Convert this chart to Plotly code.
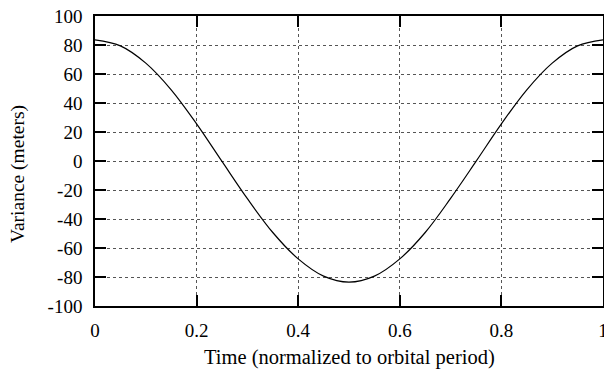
import plotly.graph_objects as go

# Values
time_vals = [0.0, 0.05, 0.10, 0.15, 0.20, 0.25, 0.30, 0.35, 0.40, 0.45, 0.50,
             0.55, 0.60, 0.65, 0.70, 0.75, 0.80, 0.85, 0.90, 0.95, 1.0]
variance_vals = [83.5, 79.4, 67.5, 49.1, 25.6, -0.3, -26.0, -49.3, -67.5, -79.4, -83.5,
                 -79.4, -67.5, -49.3, -25.8, -0.3, 25.6, 49.1, 67.5, 79.4, 83.5]
x_ticks = [0, 0.2, 0.4, 0.6, 0.8, 1]
x_tick_labels = ["0", "0.2", "0.4", "0.6", "0.8", "1"]
y_ticks = [-100, -80, -60, -40, -20, 0, 20, 40, 60, 80, 100]
y_tick_labels = [str(v) for v in y_ticks]

FONT = "Liberation Serif"

fig = go.Figure()
fig.add_trace(go.Scatter(
    x=time_vals, y=variance_vals, mode="lines",
    line=dict(color="black", width=1.2, shape="spline", smoothing=1.0),
    showlegend=False,
))

axis_common = dict(
    showline=True, linecolor="black", linewidth=1.5, mirror="ticks",
    ticks="inside", ticklen=11, tickwidth=2, tickcolor="black",
    showgrid=True, gridcolor="#555555", gridwidth=1, griddash="dot",
    zeroline=False, automargin=False, ticklabeloverflow="allow",
    tickfont=dict(family=FONT, size=19, color="black"),
)

fig.update_xaxes(range=[0, 1], tickvals=x_ticks, ticktext=x_tick_labels,
                 ticklabelstandoff=6, **axis_common)
fig.update_yaxes(range=[-100, 100], tickvals=y_ticks, ticktext=y_tick_labels,
                 ticklabelstandoff=7, **axis_common)

fig.add_annotation(text="Time (normalized to orbital period)", xref="paper", yref="paper",
                   x=0.5, y=0, xanchor="center", yanchor="middle", yshift=-51,
                   showarrow=False, font=dict(family=FONT, size=20.5, color="black"))
fig.add_annotation(text="Variance (meters)", xref="paper", yref="paper",
                   x=0, y=0.5, xanchor="center", yanchor="middle", xshift=-77, yshift=-13,
                   textangle=-90, showarrow=False,
                   font=dict(family=FONT, size=19.5, color="black"))

fig.update_layout(
    width=604, height=370,
    margin=dict(l=95, r=1, t=16, b=64),
    paper_bgcolor="white", plot_bgcolor="white",
    font=dict(family=FONT, color="black"),
)

fig.write_html("out.html", config={"displayModeBar": False},
               post_script="document.body.style.margin='0';document.body.style.overflow='hidden';")
